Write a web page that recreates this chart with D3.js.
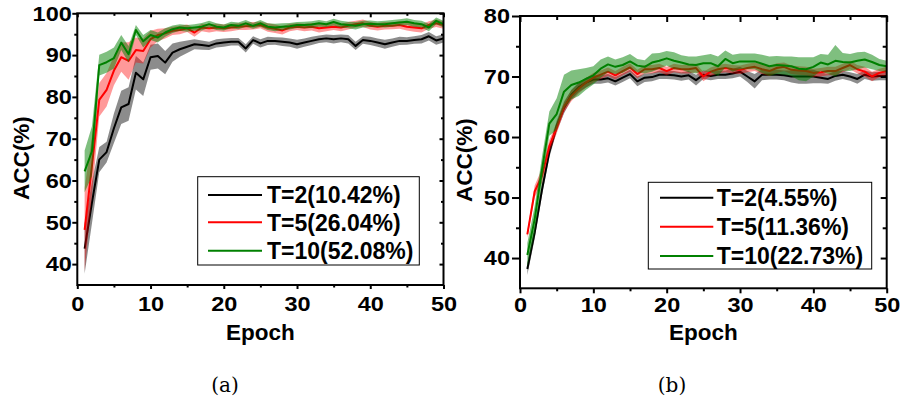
<!DOCTYPE html>
<html><head><meta charset="utf-8">
<script src="https://cdn.jsdelivr.net/npm/d3@7"></script>
<style>
html,body{margin:0;padding:0;background:#fff;}
svg text{font-family:"Liberation Sans",Arial,sans-serif;font-weight:bold;}
svg text.cap{font-family:"DejaVu Serif","Liberation Serif",serif;font-weight:normal;font-size:20px;}
</style></head>
<body><svg id="chart" width="901" height="405"></svg>
<script>
const epochs = d3.range(1, 51);
const xTickLabels = [0, 10, 20, 30, 40, 50];
const xMinorTicks = [5, 15, 25, 35, 45];
const aYTicks = [40, 50, 60, 70, 80, 90, 100];
const aYMinor = [45, 55, 65, 75, 85, 95];
const bYTicks = [40, 50, 60, 70, 80];
const bYMinor = [45, 55, 65, 75];
const legendA = ["T=2(10.42%)", "T=5(26.04%)", "T=10(52.08%)"];
const legendB = ["T=2(4.55%)", "T=5(11.36%)", "T=10(22.73%)"];

// Panel (a)
const aBlackMean = [43.7,54.7,65.0,66.8,72.5,77.5,78.3,85.8,84.2,89.5,
 89.8,88.2,90.6,91.4,92.0,92.6,92.4,92.2,92.8,93.0,
 93.2,93.2,91.6,93.6,92.8,93.4,93.4,93.2,93.0,92.6,
 93.0,93.4,93.8,94.0,93.8,94.0,93.8,92.2,93.6,93.4,
 93.0,92.6,93.0,93.4,93.4,93.6,93.8,94.5,93.5,94.0];
const aBlackStd = [6.0,5.0,3.0,2.5,3.5,4.0,4.0,4.0,4.0,3.0,
 3.0,2.8,2.2,1.8,1.5,1.2,1.1,1.0,1.0,1.0,
 0.9,0.9,1.0,0.9,1.0,1.0,0.9,1.0,1.0,1.1,
 1.0,1.0,0.9,0.9,1.0,0.9,1.0,1.0,0.9,1.0,
 1.0,1.1,1.0,1.0,0.9,0.9,1.0,1.0,1.0,1.0];
const aRedMean = [48.2,63.5,79.3,81.7,86.3,89.5,88.6,91.2,91.0,93.8,
 94.8,95.2,95.8,96.0,96.4,95.4,96.6,96.4,96.6,96.4,
 96.6,96.8,96.9,97.0,97.2,96.6,96.3,95.9,96.6,96.8,
 96.6,96.8,96.4,96.6,96.8,96.6,97.0,97.4,97.6,97.0,
 96.8,97.0,97.0,97.2,96.8,96.6,96.4,97.2,97.6,97.2];
const aRedStd = [10.0,7.0,4.0,4.0,3.5,3.5,4.5,3.0,3.0,2.0,
 1.5,1.2,1.0,1.0,0.9,1.0,0.9,1.0,0.9,0.9,
 0.9,0.8,0.9,0.9,0.8,1.0,1.0,1.0,0.9,0.8,
 0.9,0.9,1.0,0.9,0.8,0.9,0.9,0.8,0.9,0.9,
 0.9,0.9,0.8,0.9,0.9,1.0,1.0,0.9,0.9,0.9];
const aGreenMean = [62.2,67.0,87.6,88.3,89.3,93.0,90.2,96.0,93.3,94.8,
 94.2,95.4,96.2,96.6,96.4,96.6,96.8,97.4,96.8,96.6,
 97.2,97.0,97.6,97.0,97.6,96.8,96.6,96.8,96.9,97.2,
 97.2,97.3,97.6,97.4,97.9,97.4,97.2,97.0,97.4,97.5,
 97.4,97.4,97.6,97.8,98.0,97.6,97.4,96.6,98.2,97.4];
const aGreenStd = [5.0,6.0,2.5,2.5,2.5,1.8,2.0,1.2,1.5,1.2,
 1.2,1.0,0.9,0.8,0.8,0.8,0.9,0.8,0.8,0.7,
 0.8,0.8,0.8,0.7,0.8,0.8,0.9,0.8,0.8,0.7,
 0.8,0.8,0.8,0.7,0.8,0.8,0.8,0.9,0.8,0.8,
 0.7,0.8,0.8,0.8,0.8,0.8,0.8,0.9,0.8,0.8];

// Panel (b)
const bBlackMean = [38.2,44.2,51.3,57.5,61.8,64.8,67.0,68.2,69.0,69.5,
 69.5,69.7,69.2,69.8,70.4,69.2,69.8,69.9,70.3,70.3,
 70.2,70.0,70.2,69.4,70.3,70.1,70.3,70.3,70.5,70.8,
 70.0,69.2,70.3,70.3,70.3,70.2,70.0,70.0,70.0,70.0,
 69.8,69.6,70.1,70.3,70.0,69.6,70.3,70.0,70.1,70.1];
const bBlackStd = [1.0,1.0,1.0,0.9,0.9,0.9,0.8,0.8,0.8,0.7,
 0.7,0.7,0.7,0.7,0.7,0.8,0.7,0.7,0.7,0.7,
 0.7,0.7,0.7,0.9,0.7,0.7,0.7,0.7,0.8,0.8,
 0.9,1.2,0.9,0.8,0.8,0.8,1.0,1.2,1.2,1.1,
 0.9,0.8,0.8,0.7,0.7,0.8,0.7,0.7,0.7,0.7];
const bRedMean = [43.9,51.0,53.6,58.5,61.5,65.0,66.8,68.0,69.0,69.8,
 70.3,70.8,70.2,70.9,71.5,70.4,71.2,71.2,71.4,70.9,
 71.4,71.2,71.2,71.4,70.0,70.8,71.2,71.4,71.2,71.1,
 71.4,71.6,71.2,70.9,71.4,71.6,71.1,71.0,70.9,70.6,
 70.7,70.9,70.9,71.4,71.9,71.2,70.8,70.0,70.6,70.9];
const bRedStd = [0.6,1.0,1.2,1.0,0.9,0.9,0.9,0.8,0.8,0.8,
 0.7,0.7,0.7,0.7,0.7,0.7,0.7,0.7,0.7,0.7,
 0.7,0.7,0.7,0.7,0.8,0.7,0.7,0.7,0.7,0.7,
 0.7,0.7,0.8,0.8,0.8,0.7,0.7,0.7,0.7,0.7,
 0.7,0.7,0.7,0.7,0.7,0.7,0.8,0.8,0.7,0.7];
const bGreenMean = [40.5,46.4,54.6,62.2,63.8,67.5,68.6,69.0,69.6,70.2,
 71.3,72.0,71.6,71.9,72.5,71.8,71.6,72.3,72.6,73.0,
 72.6,72.3,72.0,71.9,72.2,72.2,71.7,72.9,72.2,72.5,
 72.5,72.5,72.1,71.7,71.9,71.8,71.7,71.3,71.2,71.6,
 72.3,72.0,72.6,72.4,72.3,72.6,72.8,72.4,71.9,71.7];
const bGreenStd = [2.0,2.2,2.2,2.0,2.6,2.8,2.4,2.2,1.8,1.5,
 1.5,1.3,1.2,1.3,1.2,1.1,1.1,1.5,1.3,1.2,
 1.4,1.2,1.3,1.4,1.3,1.5,1.6,1.4,1.4,1.3,
 1.3,1.3,1.5,1.6,1.5,1.5,1.6,1.9,2.0,1.6,
 1.4,1.6,2.6,1.5,1.4,1.4,1.3,1.2,1.0,0.9];

const colors = {black: "#000000", red: "#ff0000", green: "#008000"};
const bandColors = {black: "rgba(0,0,0,0.45)", red: "rgba(255,0,0,0.4)", green: "rgba(0,128,0,0.5)"};

const svg = d3.select("#chart");
const SX = 1.12; // horizontal stretch of tick labels

function drawPanel(cfg) {
  const g = svg.append("g");
  const x = d3.scaleLinear().domain([0, 50]).range([cfg.left, cfg.right]);
  const y = d3.scaleLinear().domain(cfg.yDomain).range([cfg.bottom, cfg.top]);
  const clipId = "clip" + cfg.id;
  svg.append("clipPath").attr("id", clipId).append("rect")
    .attr("x", cfg.left).attr("y", cfg.top)
    .attr("width", cfg.right - cfg.left).attr("height", cfg.bottom - cfg.top);
  const plot = g.append("g").attr("clip-path", `url(#${clipId})`);

  cfg.series.forEach(s => {
    const pts = epochs.map((e, i) => ({e, m: s.mean[i], sd: s.std[i]}));
    plot.append("path").datum(pts)
      .attr("fill", bandColors[s.color]).attr("stroke", "none")
      .attr("d", d3.area().x(d => x(d.e)).y0(d => y(d.m - d.sd)).y1(d => y(d.m + d.sd)));
    plot.append("path").datum(pts)
      .attr("fill", "none").attr("stroke", colors[s.color]).attr("stroke-width", 2)
      .attr("stroke-linejoin", "round")
      .attr("d", d3.line().x(d => x(d.e)).y(d => y(d.m)));
  });

  const tickStyle = sel => { sel.select(".domain").remove(); sel.selectAll("line").attr("stroke-width", 2).attr("stroke", "#000"); };
  const textStyle = sel => sel.selectAll("text")
    .attr("font-size", cfg.fs).attr("font-family", '"Liberation Sans",Arial,sans-serif')
    .attr("font-weight", "bold").attr("fill", "#000")
    .each(function() {
      const t = d3.select(this);
      const xx = +t.attr("x") || 0;
      t.attr("x", xx / SX).attr("transform", `scale(${SX},1)`);
    });

  g.append("g").attr("transform", `translate(0,${cfg.bottom})`)
    .call(d3.axisBottom(x).tickValues(xTickLabels).tickSize(cfg.xMaj).tickPadding(cfg.xPad).tickFormat(d3.format("d")))
    .call(tickStyle).call(textStyle);
  g.append("g").attr("transform", `translate(0,${cfg.bottom})`)
    .call(d3.axisBottom(x).tickValues(xMinorTicks).tickSize(cfg.xMin).tickFormat(""))
    .call(tickStyle);
  g.append("g").attr("transform", `translate(${cfg.left},0)`)
    .call(d3.axisLeft(y).tickValues(cfg.yTicks).tickSize(cfg.yMaj).tickPadding(cfg.yPad).tickFormat(d3.format("d")))
    .call(tickStyle).call(textStyle);
  g.append("g").attr("transform", `translate(${cfg.left},0)`)
    .call(d3.axisLeft(y).tickValues(cfg.yMinor).tickSize(cfg.yMin).tickFormat(""))
    .call(tickStyle);
  g.append("g").attr("transform", `translate(0,${cfg.top})`)
    .call(d3.axisTop(x).tickValues(xTickLabels).tickSize(-cfg.inMaj).tickFormat(""))
    .call(tickStyle);
  g.append("g").attr("transform", `translate(0,${cfg.top})`)
    .call(d3.axisTop(x).tickValues(xMinorTicks).tickSize(-cfg.inMin).tickFormat(""))
    .call(tickStyle);
  g.append("g").attr("transform", `translate(${cfg.right},0)`)
    .call(d3.axisRight(y).tickValues(cfg.yTicks).tickSize(-cfg.inMaj).tickFormat(""))
    .call(tickStyle);
  g.append("g").attr("transform", `translate(${cfg.right},0)`)
    .call(d3.axisRight(y).tickValues(cfg.yMinor).tickSize(-cfg.inMin).tickFormat(""))
    .call(tickStyle);

  g.append("rect").attr("x", cfg.left).attr("y", cfg.top)
    .attr("width", cfg.right - cfg.left).attr("height", cfg.bottom - cfg.top)
    .attr("fill", "none").attr("stroke", "#000").attr("stroke-width", 2);

  g.append("text").attr("x", (cfg.left + cfg.right) / 2).attr("y", cfg.xTitleY)
    .attr("text-anchor", "middle").attr("font-size", cfg.tfs).text("Epoch");
  g.append("text").attr("transform", `translate(${cfg.yTitleX},${cfg.yTitleCY}) rotate(-90)`)
    .attr("text-anchor", "middle").attr("font-size", cfg.tfs).text("ACC(%)");

  const L = cfg.legend;
  g.append("rect").attr("x", L.x).attr("y", L.y).attr("width", L.w).attr("height", L.h)
    .attr("fill", "#fff").attr("stroke", "#000").attr("stroke-width", 1);
  cfg.series.forEach((s, i) => {
    const ry = L.rows[i];
    g.append("line").attr("x1", L.lx1).attr("x2", L.lx2).attr("y1", ry).attr("y2", ry)
      .attr("stroke", colors[s.color]).attr("stroke-width", 2);
    g.append("text").attr("x", L.tx).attr("y", ry).attr("dy", "0.36em")
      .attr("font-size", L.fs).text(cfg.labels[i]);
  });

  svg.append("text").attr("class", "cap").attr("x", cfg.capX).attr("y", 392)
    .attr("text-anchor", "middle").text(cfg.caption);
}

drawPanel({
  id: "a", left: 77.3, right: 443.5, top: 13.3, bottom: 285, yDomain: [35, 100],
  yTicks: aYTicks, yMinor: aYMinor, fs: 21, tfs: 22.5,
  xMaj: 4, xMin: 2.5, xPad: 7.5, yMaj: 5, yMin: 3, yPad: 0.5, inMaj: 4, inMin: 2.5,
  xTitleY: 340, yTitleX: 28.5, yTitleCY: 158,
  series: [
    {color: "black", mean: aBlackMean, std: aBlackStd},
    {color: "red", mean: aRedMean, std: aRedStd},
    {color: "green", mean: aGreenMean, std: aGreenStd}
  ],
  labels: legendA,
  legend: {x: 197.7, y: 176.7, w: 221.6, h: 88.3, rows: [195, 222.3, 250.7], lx1: 208, lx2: 262, tx: 267, fs: 23},
  capX: 225, caption: "(a)"
});

drawPanel({
  id: "b", left: 520, right: 886.7, top: 16, bottom: 288.3, yDomain: [35, 80],
  yTicks: bYTicks, yMinor: bYMinor, fs: 21, tfs: 22.5,
  xMaj: 5, xMin: 3, xPad: 3.5, yMaj: 8, yMin: 4, yPad: 2, inMaj: 6, inMin: 4,
  xTitleY: 339.5, yTitleX: 471.7, yTitleCY: 160,
  series: [
    {color: "black", mean: bBlackMean, std: bBlackStd},
    {color: "red", mean: bRedMean, std: bRedStd},
    {color: "green", mean: bGreenMean, std: bGreenStd}
  ],
  labels: legendB,
  legend: {x: 648.3, y: 182.3, w: 223.4, h: 86.7, rows: [197.7, 226.7, 256], lx1: 660, lx2: 713.3, tx: 716.7, fs: 23},
  capX: 672, caption: "(b)"
});
</script></body></html>
